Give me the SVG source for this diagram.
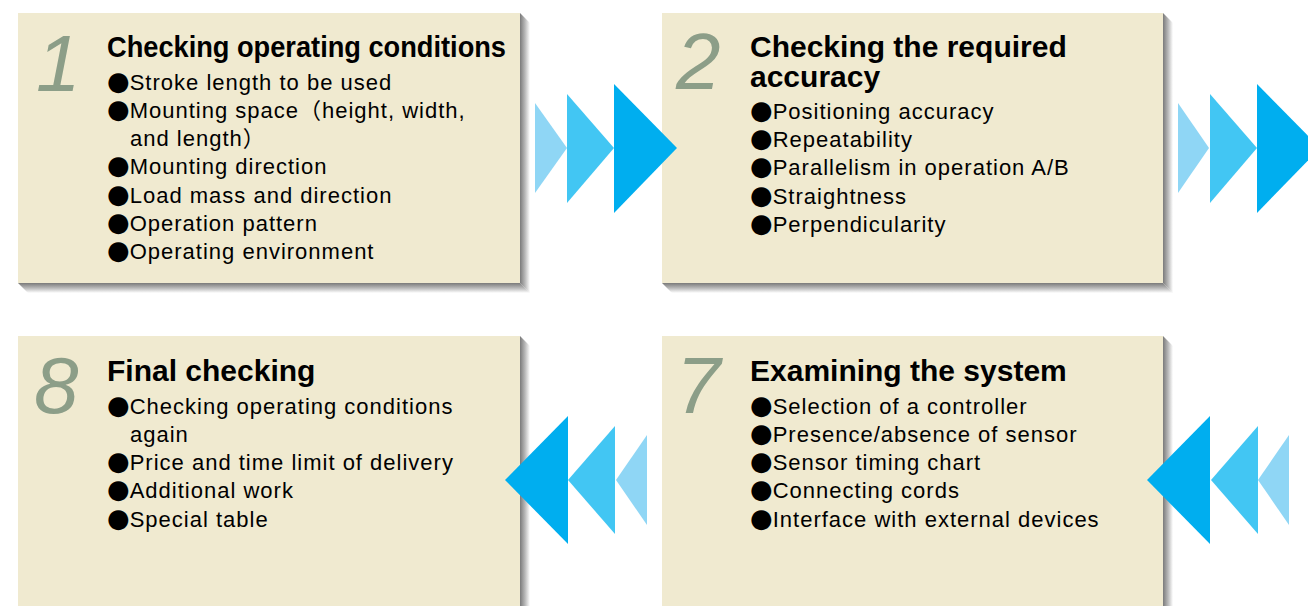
<svg xmlns="http://www.w3.org/2000/svg" width="1308" height="606" viewBox="0 0 1308 606">
<defs>
<linearGradient id="shR" x1="0" y1="0" x2="1" y2="0"><stop offset="0" stop-color="#7a7a7a"/><stop offset="0.5" stop-color="#b8b8b8"/><stop offset="1" stop-color="#ffffff"/></linearGradient>
<linearGradient id="shB" x1="0" y1="0" x2="0" y2="1"><stop offset="0" stop-color="#7a7a7a"/><stop offset="0.5" stop-color="#b8b8b8"/><stop offset="1" stop-color="#ffffff"/></linearGradient>
<style>
.box{fill:#f0ead0}
.num{font-family:"Liberation Sans",Arial,sans-serif;font-style:italic;font-size:80px;fill:#8c9e88}
.ttl{font-family:"Liberation Sans",Arial,sans-serif;font-weight:bold;font-size:30px;fill:#000}
.txt{font-family:"Liberation Sans",Arial,"Noto Sans CJK JP",sans-serif;font-size:22px;letter-spacing:1px;fill:#000}
.b{font-family:"DejaVu Sans",sans-serif;font-size:26px;letter-spacing:0}
.a1{fill:#8fd6f5}.a2{fill:#42c6f3}.a3{fill:#00aeef}
</style>
</defs>
<rect width="1308" height="606" fill="#ffffff"/>

<g id="node1">
<polygon points="520,13 530,23 530,293 520,283" fill="url(#shR)"/>
<polygon points="18,283 520,283 530,293 28,293" fill="url(#shB)"/>
<rect class="box" x="18" y="13" width="502" height="270"/>
<text class="num" x="36" y="91">1</text>
<text class="ttl" x="107" y="57" textLength="399" lengthAdjust="spacingAndGlyphs">Checking operating conditions</text>
<text class="txt" x="107" y="90"><tspan class="b">●</tspan>Stroke length to be used</text>
<text class="txt" x="107" y="118"><tspan class="b">●</tspan>Mounting space（height, width,</text>
<text class="txt" x="130" y="146">and length）</text>
<text class="txt" x="107" y="174"><tspan class="b">●</tspan>Mounting direction</text>
<text class="txt" x="107" y="203"><tspan class="b">●</tspan>Load mass and direction</text>
<text class="txt" x="107" y="231"><tspan class="b">●</tspan>Operation pattern</text>
<text class="txt" x="107" y="259"><tspan class="b">●</tspan>Operating environment</text>
</g>

<g id="node2">
<polygon points="1163,13 1173,23 1173,293 1163,283" fill="url(#shR)"/>
<polygon points="662,283 1163,283 1173,293 672,293" fill="url(#shB)"/>
<rect class="box" x="662" y="13" width="501" height="270"/>
<text class="num" x="676" y="89">2</text>
<text class="ttl" x="750" y="57">Checking the required</text>
<text class="ttl" x="750" y="87">accuracy</text>
<text class="txt" x="750" y="119"><tspan class="b">●</tspan>Positioning accuracy</text>
<text class="txt" x="750" y="147"><tspan class="b">●</tspan>Repeatability</text>
<text class="txt" x="750" y="175"><tspan class="b">●</tspan>Parallelism in operation A/B</text>
<text class="txt" x="750" y="204"><tspan class="b">●</tspan>Straightness</text>
<text class="txt" x="750" y="232"><tspan class="b">●</tspan>Perpendicularity</text>
</g>

<g id="node8">
<polygon points="520,336 530,346 530,606 520,606" fill="url(#shR)"/>
<rect class="box" x="18" y="336" width="502" height="270"/>
<text class="num" x="34" y="413">8</text>
<text class="ttl" x="107" y="381">Final checking</text>
<text class="txt" x="107" y="414"><tspan class="b">●</tspan>Checking operating conditions</text>
<text class="txt" x="130" y="442">again</text>
<text class="txt" x="107" y="470"><tspan class="b">●</tspan>Price and time limit of delivery</text>
<text class="txt" x="107" y="498"><tspan class="b">●</tspan>Additional work</text>
<text class="txt" x="107" y="527"><tspan class="b">●</tspan>Special table</text>
</g>

<g id="node7">
<polygon points="1163,336 1173,346 1173,606 1163,606" fill="url(#shR)"/>
<rect class="box" x="662" y="336" width="501" height="270"/>
<text class="num" x="676" y="413">7</text>
<text class="ttl" x="750" y="381">Examining the system</text>
<text class="txt" x="750" y="414"><tspan class="b">●</tspan>Selection of a controller</text>
<text class="txt" x="750" y="442"><tspan class="b">●</tspan>Presence/absence of sensor</text>
<text class="txt" x="750" y="470"><tspan class="b">●</tspan>Sensor timing chart</text>
<text class="txt" x="750" y="498"><tspan class="b">●</tspan>Connecting cords</text>
<text class="txt" x="750" y="527"><tspan class="b">●</tspan>Interface with external devices</text>
</g>

<g id="connectors">
<polygon class="a1" points="535,103 567,148 535,193"/>
<polygon class="a2" points="567,94 614,148 567,203"/>
<polygon class="a3" points="614,84 677,148 614,213"/>
<polygon class="a1" points="1178,103 1209,148 1178,193"/>
<polygon class="a2" points="1210,94 1257,148 1210,203"/>
<polygon class="a3" points="1257,84 1320,148 1257,213"/>
<polygon class="a1" points="647,435 616,480 647,525"/>
<polygon class="a2" points="615,426 568,480 615,534"/>
<polygon class="a3" points="568,416 505,480 568,544"/>
<polygon class="a1" points="1289,435 1258,480 1289,525"/>
<polygon class="a2" points="1258,426 1211,480 1258,534"/>
<polygon class="a3" points="1210,416 1147,480 1210,544"/>
</g>
</svg>
